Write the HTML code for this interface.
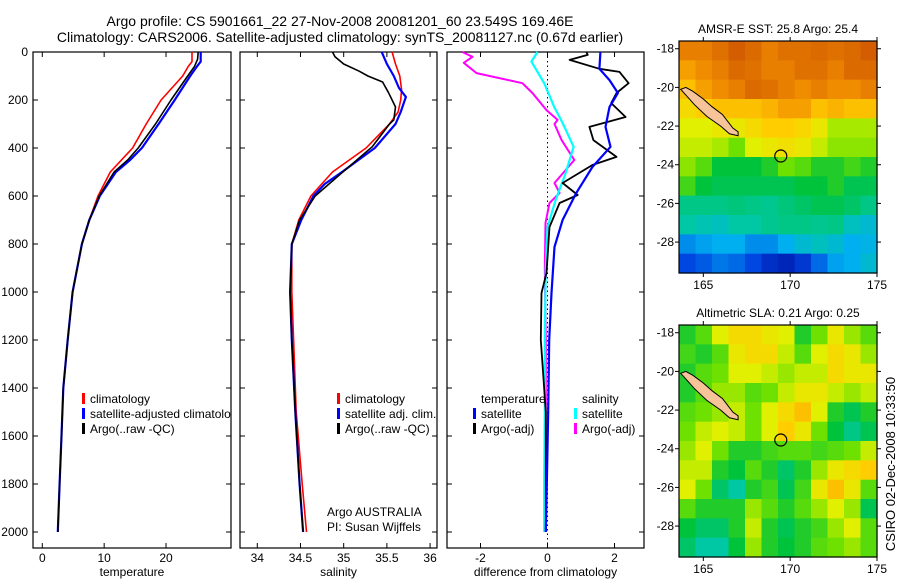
<!DOCTYPE html>
<html><head><meta charset="utf-8"><style>
html,body{margin:0;padding:0;background:#fff;}
svg{display:block;font-family:"Liberation Sans",sans-serif;}
</style></head><body>
<svg id="fig" width="900" height="580" viewBox="0 0 900 580" xmlns="http://www.w3.org/2000/svg">
<text x="340" y="26" font-size="14" text-anchor="middle">Argo profile: CS 5901661_22 27-Nov-2008 20081201_60 23.549S 169.46E</text>
<text x="340" y="42" font-size="14" text-anchor="middle">Climatology: CARS2006. Satellite-adjusted climatology: synTS_20081127.nc (0.67d earlier)</text>
<g id="panels"></g>
<g id="maps"></g>
<text transform="translate(895,464) rotate(-90)" font-size="13" text-anchor="middle">CSIRO 02-Dec-2008 10:33:50</text>
</svg>
<script>
// ---------- data ----------
const depthTicks=[0,200,400,600,800,1000,1200,1400,1600,1800,2000];
const tempTicks=[0,10,20];
const salTicks=[34,34.5,35,35.5,36];
const diffTicks=[-2,0,2];
const tempClimDepth=[0,40,60,100,200,300,400,500,600,700,800,1000,1200,1400,1600,1800,2000];
const tempClim=[24.2,24.2,23.6,22.7,19.2,16.8,14.6,11.0,9.0,7.6,6.4,4.9,4.1,3.4,3.1,2.8,2.5];
const tempSatDepth=[0,40,60,100,200,300,400,450,500,600,700,800,1000,1200,1400,1600,1800,2000];
const tempSat=[25.6,25.6,25.0,23.9,21.4,18.8,16.1,14.2,11.9,9.3,7.6,6.4,4.9,4.1,3.4,3.1,2.8,2.5];
const tempArgoDepth=[0,30,60,100,200,300,400,450,500,600,700,800,1000,1200,1400,1600,1800,2000];
const tempArgo=[25.2,25.1,24.6,23.5,20.8,18.3,15.5,13.8,11.6,9.2,7.6,6.4,4.9,4.1,3.4,3.1,2.8,2.5];
const salClimDepth=[0,50,100,158,200,250,300,400,500,600,700,800,1000,1200,1500,1800,2000];
const salClim=[35.56,35.60,35.65,35.67,35.66,35.63,35.53,35.26,34.87,34.62,34.48,34.40,34.40,34.42,34.45,34.52,34.57];
const salSatDepth=[0,50,100,150,187,250,300,400,500,550,600,700,800,1000,1200,1500,1800,2000];
const salSat=[35.44,35.50,35.58,35.64,35.72,35.66,35.60,35.36,34.98,34.78,34.65,34.51,34.40,34.38,34.40,34.44,34.49,34.53];
const salArgoDepth=[0,20,50,80,100,125,170,229,283,300,395,500,600,700,800,1000,1200,1500,1800,2000];
const salArgo=[34.87,34.90,35.00,35.18,35.28,35.45,35.52,35.60,35.58,35.53,35.33,34.99,34.67,34.49,34.40,34.38,34.40,34.44,34.49,34.53];
const dSalSatDepth=[0,40,130,229,296,395,505,617,730,900,1200,1500,1800,2000];
const dSalSat=[-0.3,-0.48,-0.1,0.2,0.45,0.78,0.54,0.24,0.0,-0.05,-0.08,-0.08,-0.1,-0.1];
const dSalArgoDepth=[0,20,45,88,130,171,242,283,300,367,450,546,587,629,712,900,1200,1500,1800,2000];
const dSalArgo=[-2.54,-2.24,-2.5,-2.12,-0.75,-0.45,-0.03,0.3,0.21,0.42,0.8,0.21,0.36,0.06,-0.06,-0.08,-0.05,-0.05,-0.05,-0.05];
const dTempSatDepth=[0,70,117,171,229,312,395,479,587,700,812,1004,1200,1500,1800,2000];
const dTempSat=[1.58,1.55,1.85,2.1,1.85,1.73,1.88,1.34,0.86,0.45,0.21,0.12,0.05,0.02,-0.02,-0.05];
const dTempArgoDepth=[0,12,33,70,83,130,171,213,271,312,367,437,471,546,596,629,729,921,1004,1200,1300,1500,1800,2000];
const dTempArgo=[1.16,1.2,0.66,1.55,2.15,2.42,2.06,1.9,2.33,1.25,1.37,2.06,1.34,0.45,0.9,0.36,0.06,-0.03,-0.18,-0.2,-0.15,-0.05,-0.05,-0.05];
const mapLatTicks=[-18,-20,-22,-24,-26,-28];
const mapLonTicks=[165,170,175];
const sstGrid=[
[0.9,0.9,0.92,0.95,0.93,0.9,0.92,0.92,0.93,0.92,0.93,0.95],
[0.85,0.88,0.9,0.93,0.92,0.9,0.9,0.92,0.92,0.9,0.93,0.93],
[0.8,0.85,0.88,0.9,0.93,0.92,0.9,0.88,0.9,0.88,0.88,0.9],
[0.75,0.78,0.8,0.8,0.8,0.82,0.85,0.85,0.8,0.82,0.8,0.8],
[0.7,0.7,0.72,0.72,0.75,0.78,0.78,0.76,0.72,0.66,0.66,0.66],
[0.68,0.68,0.66,0.62,0.7,0.72,0.74,0.72,0.68,0.64,0.64,0.64],
[0.64,0.6,0.52,0.52,0.52,0.55,0.62,0.6,0.55,0.55,0.58,0.55],
[0.58,0.52,0.5,0.5,0.5,0.5,0.5,0.52,0.52,0.55,0.5,0.5],
[0.45,0.45,0.45,0.46,0.45,0.44,0.46,0.48,0.5,0.5,0.48,0.45],
[0.42,0.4,0.38,0.42,0.42,0.44,0.45,0.45,0.44,0.45,0.38,0.35],
[0.25,0.28,0.3,0.3,0.25,0.25,0.3,0.35,0.38,0.35,0.3,0.32],
[0.15,0.18,0.22,0.2,0.15,0.1,0.08,0.12,0.2,0.28,0.3,0.35]];
const slaGrid=[
[0.55,0.6,0.7,0.75,0.75,0.72,0.7,0.55,0.62,0.72,0.65,0.6],
[0.58,0.55,0.6,0.72,0.75,0.75,0.68,0.6,0.7,0.75,0.72,0.65],
[0.55,0.6,0.62,0.7,0.7,0.68,0.65,0.68,0.68,0.75,0.72,0.72],
[0.55,0.6,0.65,0.65,0.6,0.62,0.68,0.72,0.72,0.68,0.65,0.68],
[0.6,0.62,0.65,0.68,0.62,0.7,0.75,0.8,0.7,0.55,0.5,0.55],
[0.62,0.68,0.7,0.68,0.62,0.7,0.78,0.72,0.62,0.52,0.45,0.5],
[0.65,0.7,0.62,0.55,0.55,0.58,0.6,0.6,0.58,0.6,0.62,0.68],
[0.68,0.68,0.55,0.52,0.6,0.55,0.48,0.55,0.65,0.72,0.75,0.78],
[0.7,0.62,0.48,0.42,0.55,0.58,0.5,0.58,0.72,0.8,0.72,0.6],
[0.6,0.55,0.55,0.55,0.65,0.6,0.55,0.6,0.65,0.7,0.65,0.5],
[0.52,0.48,0.48,0.55,0.68,0.55,0.5,0.55,0.58,0.65,0.7,0.6],
[0.48,0.42,0.42,0.52,0.65,0.55,0.52,0.55,0.6,0.62,0.65,0.6]];
const argoLon=169.46, argoLat=-23.549;
const islandLon=[164.0,164.4,165.0,165.5,166.1,166.7,167.0,167.0,166.5,166.0,165.2,164.5,164.0,163.7];
const islandLat=[-20.0,-20.2,-20.6,-21.0,-21.4,-22.1,-22.3,-22.5,-22.4,-22.0,-21.5,-20.9,-20.4,-20.1];

// ---------- helpers ----------
const NS="http://www.w3.org/2000/svg";
function mk(tag,attrs,parent){const e=document.createElementNS(NS,tag);for(const k in attrs)e.setAttribute(k,attrs[k]);parent.appendChild(e);return e;}
const Y0=52, YB=548;
function yD(d){return Y0+d*0.24;}
const panelsG=document.getElementById('panels');
const mapsG=document.getElementById('maps');

function panel(name,x0,x1,vmin,vmax,ticks,label,fmt){
  const g=mk('g',{},panelsG);
  
  
  const sx=v=>x0+(v-vmin)/(vmax-vmin)*(x1-x0);
  const r=mk('rect',{x:x0,y:Y0,width:x1-x0,height:YB-Y0,fill:'none',stroke:'#000','stroke-width':1.2},g);
  
  
  depthTicks.forEach(d=>{
    mk('line',{x1:x0,x2:x0+5,y1:yD(d),y2:yD(d),stroke:'#000'},g);
    mk('line',{x1:x1,x2:x1-5,y1:yD(d),y2:yD(d),stroke:'#000'},g);
  });
  ticks.forEach(t=>{
    mk('line',{x1:sx(t),x2:sx(t),y1:Y0,y2:Y0+5,stroke:'#000'},g);
    mk('line',{x1:sx(t),x2:sx(t),y1:YB,y2:YB-5,stroke:'#000'},g);
    const tx=mk('text',{x:sx(t),y:YB+14,'font-size':12,'text-anchor':'middle'},g);
    tx.textContent=fmt?fmt(t):t;
    
    
  });
  const xl=mk('text',{x:(x0+x1)/2,y:YB+28,'font-size':12,'text-anchor':'middle'},g);
  xl.textContent=label;
  
  
  return {g,sx};
}
function line(p,depths,vals,color,w,name){
  const pts=depths.map((d,i)=>p.sx(vals[i]).toFixed(1)+','+yD(d).toFixed(1)).join(' ');
  const l=mk('polyline',{points:pts,fill:'none',stroke:color,'stroke-width':w,'stroke-linejoin':'round'},p.g);
  
  
}
function legend(g,x,y,color,text){
  if(color) mk('rect',{x:x,y:y-10,width:3,height:11,fill:color},g);
  const t=mk('text',{x:x+8,y:y,'font-size':12},g);
  t.textContent=text;
  
  
}

// depth labels
depthTicks.forEach(d=>{
  const t=mk('text',{x:28,y:yD(d)+4,'font-size':12,'text-anchor':'end'},panelsG);
  t.textContent=d;
  
  
});

// panel 1 temperature
const p1=panel('temperature-panel',33,231,-1.5,30.5,tempTicks,'temperature');
line(p1,tempClimDepth,tempClim,'#f00',1.6,'temp-climatology-line');
line(p1,tempSatDepth,tempSat,'#00f',2.2,'temp-satellite-line');
line(p1,tempArgoDepth,tempArgo,'#000',1.6,'temp-argo-line');
const lg1=mk('g',{'clip-path':'url(#c1)'},p1.g);
mk('clipPath',{id:'c1'},panelsG).appendChild(Object.assign(document.createElementNS(NS,'rect'),{}));
document.querySelector('#c1 rect').setAttribute('x',33);document.querySelector('#c1 rect').setAttribute('y',52);document.querySelector('#c1 rect').setAttribute('width',198);document.querySelector('#c1 rect').setAttribute('height',496);
legend(lg1,82,403,'#f00','climatology');
legend(lg1,82,418,'#00f','satellite-adjusted climatology');
legend(lg1,82,433,'#000','Argo(..raw -QC)');

// panel 2 salinity
const p2=panel('salinity-panel',240,437,33.8,36.08,salTicks,'salinity',t=>String(t));
line(p2,salClimDepth,salClim,'#f00',1.6,'sal-climatology-line');
line(p2,salSatDepth,salSat,'#00f',2.2,'sal-satellite-line');
line(p2,salArgoDepth,salArgo,'#000',1.6,'sal-argo-line');
legend(p2.g,337,403,'#f00','climatology');
legend(p2.g,337,418,'#00f','satellite adj. clim.');
legend(p2.g,337,433,'#000','Argo(..raw -QC)');
const a1=mk('text',{x:327,y:516,'font-size':12},p2.g);a1.textContent='Argo AUSTRALIA';

const a2=mk('text',{x:327,y:531,'font-size':12},p2.g);a2.textContent='PI: Susan Wijffels';


// panel 3 differences
const p3=panel('difference-panel',447,644,-3.0,2.88,diffTicks,'difference from climatology');
mk('line',{x1:p3.sx(0),x2:p3.sx(0),y1:Y0,y2:YB,stroke:'#000','stroke-dasharray':'1.5,3'},p3.g);
line(p3,dSalArgoDepth,dSalArgo,'#f0f',2,'diff-sal-argo-line');
line(p3,dSalSatDepth,dSalSat,'#0ff',2.2,'diff-sal-satellite-line');
line(p3,dTempArgoDepth,dTempArgo,'#000',1.8,'diff-temp-argo-line');
line(p3,dTempSatDepth,dTempSat,'#00f',2.2,'diff-temp-satellite-line');
legend(p3.g,473,403,null,'temperature');
legend(p3.g,473,418,'#00f','satellite');
legend(p3.g,473,433,'#000','Argo(-adj)');
legend(p3.g,574,403,null,'salinity');
legend(p3.g,574,418,'#0ff','satellite');
legend(p3.g,574,433,'#f0f','Argo(-adj)');

// ---------- maps ----------
const stops=[[0,[0,0,140]],[0.15,[0,70,225]],[0.3,[0,175,240]],[0.42,[0,200,165]],[0.52,[0,195,60]],[0.62,[110,225,0]],[0.7,[225,240,0]],[0.78,[255,205,0]],[0.88,[240,140,0]],[1,[190,60,0]]];
function cmap(v){for(let i=1;i<stops.length;i++){if(v<=stops[i][0]){const a=stops[i-1],b=stops[i];const f=(v-a[0])/(b[0]-a[0]);return 'rgb('+a[1].map((c,k)=>Math.round(c+(b[1][k]-c)*f)).join(',')+')';}}return 'rgb(190,60,0)';}
function map(name,title,grid,top){
  const x0=679,x1=877,y0=top,y1=top+232;
  const lon0=163.6,lon1=175,lat0=-17.6,lat1=-29.6;
  const sx=l=>x0+(l-lon0)/(lon1-lon0)*(x1-x0);
  const sy=l=>y0+(l-lat0)/(lat1-lat0)*(y1-y0);
  const g=mk('g',{},mapsG);
  
  
  const rows=grid.length,cols=grid[0].length;
  const cw=(x1-x0)/cols,ch=(y1-y0)/rows;
  grid.forEach((row,r)=>row.forEach((v,c)=>{
    const cell=mk('rect',{x:(x0+c*cw).toFixed(2),y:(y0+r*ch).toFixed(2),width:(cw+0.6).toFixed(2),height:(ch+0.6).toFixed(2),fill:cmap(v)},g);
    
    
  }));
  const isl=mk('polygon',{points:islandLon.map((l,i)=>sx(l).toFixed(1)+','+sy(islandLat[i]).toFixed(1)).join(' '),fill:'#f7c49a',stroke:'#000','stroke-width':1},g);
  
  
  const circ=mk('circle',{cx:sx(argoLon),cy:sy(argoLat),r:6,fill:'none',stroke:'#000','stroke-width':1.2},g);
  
  
  mk('rect',{x:x0,y:y0,width:x1-x0,height:y1-y0,fill:'none',stroke:'#000','stroke-width':1.2},g);
  mapLatTicks.forEach(l=>{
    mk('line',{x1:x0-4,x2:x0,y1:sy(l),y2:sy(l),stroke:'#000'},g);
    mk('line',{x1:x1,x2:x1+4,y1:sy(l),y2:sy(l),stroke:'#000'},g);
    const t=mk('text',{x:x0-5,y:sy(l)+4,'font-size':12,'text-anchor':'end'},g);
    t.textContent=l;
    
    
  });
  mapLonTicks.forEach(l=>{
    mk('line',{x1:sx(l),x2:sx(l),y1:y1,y2:y1+4,stroke:'#000'},g);
    mk('line',{x1:sx(l),x2:sx(l),y1:y0-4,y2:y0,stroke:'#000'},g);
    const t=mk('text',{x:sx(l),y:y1+16,'font-size':12,'text-anchor':'middle'},g);
    t.textContent=l;
    
    
  });
  const tt=mk('text',{x:(x0+x1)/2,y:y0-8,'font-size':12,'text-anchor':'middle'},g);
  tt.textContent=title;
  
  
}
map('sst-map','AMSR-E SST: 25.8 Argo: 25.4',sstGrid,41);
map('sla-map','Altimetric SLA: 0.21 Argo: 0.25',slaGrid,325);
</script>
</body></html>
